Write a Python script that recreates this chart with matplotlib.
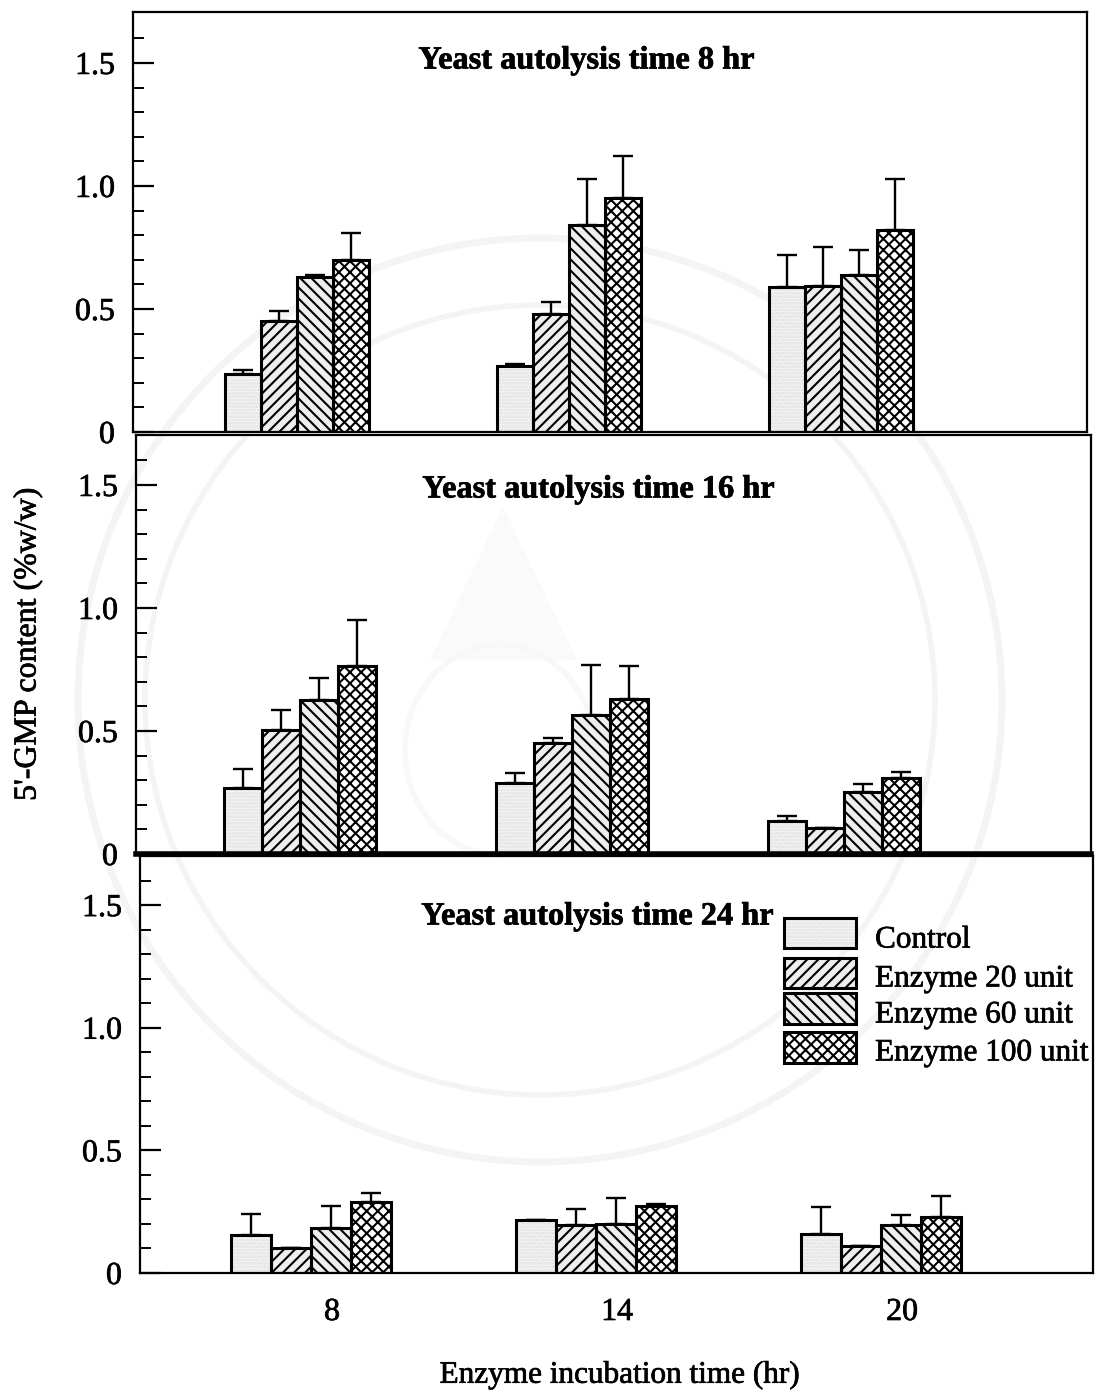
import matplotlib
matplotlib.use('Agg')
import matplotlib.pyplot as plt
import matplotlib.patheffects as pe
from matplotlib.patches import Circle, Ellipse, Polygon, Rectangle
from matplotlib.text import Text
from matplotlib.ticker import FixedFormatter, FixedLocator
from matplotlib.transforms import ScaledTranslation

plt.rcParams['font.family'] = ['Liberation Serif', 'DejaVu Serif']
plt.rcParams['hatch.linewidth'] = 1.5

W, H = 1100, 1391

hours = [8, 14, 20]
hour_labels = ['8', '14', '20']
series_names = ['Control', 'Enzyme 20 unit', 'Enzyme 60 unit', 'Enzyme 100 unit']
titles = ['Yeast autolysis time 8 hr', 'Yeast autolysis time 16 hr', 'Yeast autolysis time 24 hr']
y_major = [0, 0.5, 1.0, 1.5]
y_major_labels = ['0', '0.5', '1.0', '1.5']
y_minor = [0.1, 0.2, 0.3, 0.4, 0.6, 0.7, 0.8, 0.9, 1.1, 1.2, 1.3, 1.4, 1.6]

# bar heights, one list per dose, one value per incubation time
p1_control = [0.235, 0.27, 0.59]
p1_e20 = [0.45, 0.48, 0.595]
p1_e60 = [0.63, 0.84, 0.64]
p1_e100 = [0.70, 0.95, 0.82]
p1_err = [[0.015, 0.005, 0.13], [0.04, 0.05, 0.155], [0.01, 0.19, 0.10], [0.11, 0.17, 0.21]]

p2_control = [0.27, 0.29, 0.135]
p2_e20 = [0.505, 0.45, 0.105]
p2_e60 = [0.625, 0.565, 0.25]
p2_e100 = [0.765, 0.63, 0.31]
p2_err = [[0.075, 0.04, 0.02], [0.08, 0.02, 0.0], [0.09, 0.205, 0.035], [0.185, 0.135, 0.025]]

p3_control = [0.155, 0.215, 0.16]
p3_e20 = [0.10, 0.195, 0.11]
p3_e60 = [0.185, 0.20, 0.195]
p3_e100 = [0.29, 0.275, 0.23]
p3_err = [[0.085, 0.0, 0.11], [0.0, 0.065, 0.0], [0.09, 0.105, 0.04], [0.035, 0.005, 0.085]]

panels = [
    ([p1_control, p1_e20, p1_e60, p1_e100], p1_err),
    ([p2_control, p2_e20, p2_e60, p2_e100], p2_err),
    ([p3_control, p3_e20, p3_e60, p3_e100], p3_err),
]

# pixel box of each panel: left, right, top, bottom, then x limits and bar width in hours
boxes = [(133, 1087, 12, 432), (136, 1091, 435, 854), (140, 1093, 856, 1273)]
xlims = [(4.38, 25.43), (4.38, 25.45), (4.4, 24.46)]
widths = [0.79, 0.84, 0.84]
title_pos = [(587, 61), (599, 490), (598, 917)]
y_tops = [1.707, 1.703, 1.70]

hatches = ['', '///', '\\\\\\', 'xxx']
control_style = dict(facecolor='#f7f7f7', edgecolor='#dedede', hatch='.....', linewidth=0)


def hatch_style(i):
    if i == 0:
        return control_style
    return dict(facecolor='#eeeeee' if i < 3 else 'white', edgecolor='black', hatch=hatches[i], linewidth=0)


fig = plt.figure(figsize=(W / 100, H / 100), dpi=100)

# faint library seal behind the charts
bg = fig.add_axes([0, 0, 1, 1])
bg.set_xlim(0, W)
bg.set_ylim(H, 0)
bg.axis('off')
for r, lw in [(462, 5), (395, 4)]:
    bg.add_patch(Circle((540, 700), r, fill=False, edgecolor='#f4f4f4', linewidth=lw))
bg.add_patch(Polygon([(503, 507), (430, 660), (577, 660)], facecolor='#fafafa', edgecolor='none'))
bg.add_patch(Ellipse((500, 750), 190, 210, fill=False, edgecolor='#f8f8f8', linewidth=4))

for k, (vals, errs) in enumerate(panels):
    left, right, top, bottom = boxes[k]
    ax = fig.add_axes([left / W, 1 - bottom / H, (right - left) / W, (bottom - top) / H])
    ax.patch.set_alpha(0)
    w = widths[k]
    for i in range(4):
        xs = [h + (i - 1.5) * w for h in hours]
        ax.bar(xs, vals[i], w, zorder=2, **hatch_style(i))
        ax.bar(xs, vals[i], w, fill=False, edgecolor='black', linewidth=2.2, zorder=3)
        ax.errorbar(xs, vals[i], yerr=[[0, 0, 0], errs[i]], fmt='none', ecolor='black',
                    elinewidth=1.7, capsize=7.5, capthick=1.7, zorder=1)
    ax.set_xlim(*xlims[k])
    ax.set_ylim(0, y_tops[k])
    ax.yaxis.set_major_locator(FixedLocator(y_major))
    ax.yaxis.set_major_formatter(FixedFormatter(y_major_labels))
    ax.yaxis.set_minor_locator(FixedLocator(y_minor))
    ax.tick_params(axis='y', which='major', direction='in', length=15, width=1.6, labelsize=23, pad=13)
    ax.tick_params(axis='y', which='minor', direction='in', length=8, width=1.4)
    if k == 2:
        ax.set_xticks(hours)
        ax.set_xticklabels(hour_labels, fontsize=23)
        ax.tick_params(axis='x', length=0, pad=18)
        # the printed labels sit right of the bar groups
        shift = ScaledTranslation(21 / 100, 0, fig.dpi_scale_trans)
        for lab in ax.get_xticklabels():
            lab.set_transform(lab.get_transform() + shift)
    else:
        ax.set_xticks([])
    for s in ax.spines.values():
        s.set_linewidth(1.6)
    if k == 1:
        ax.spines['bottom'].set_linewidth(4)
    fig.text(title_pos[k][0] / W, 1 - title_pos[k][1] / H, titles[k], fontsize=23.3, fontweight='bold',
             ha='center', va='center')

fig.text(28 / W, 1 - 644 / H, "5'-GMP content (%w/w)", rotation=90, fontsize=23, ha='center', va='center')
fig.text(620 / W, 1 - 1375 / H, 'Enzyme incubation time (hr)', fontsize=22.5, ha='center', va='center')

# legend placed by hand, rows are not evenly spaced in the original
leg_y = [(918, 948), (958, 988), (993, 1024), (1032, 1063)]
leg_text_y = [940, 979, 1015, 1053]
lax = fig.add_axes([0, 0, 1, 1])
lax.set_xlim(0, W)
lax.set_ylim(H, 0)
lax.axis('off')
for i in range(4):
    y0, y1 = leg_y[i]
    lax.add_patch(Rectangle((784, y0), 72, y1 - y0, **hatch_style(i)))
    lax.add_patch(Rectangle((784, y0), 72, y1 - y0, fill=False, edgecolor='black', linewidth=2.2))
    lax.text(875, leg_text_y[i], series_names[i], fontsize=22.5, va='center', ha='left')

# scanned print looks heavier than clean type
for t in fig.findobj(Text):
    t.set_path_effects([pe.withStroke(linewidth=0.5, foreground='black')])

fig.savefig('out.png', dpi=100)
